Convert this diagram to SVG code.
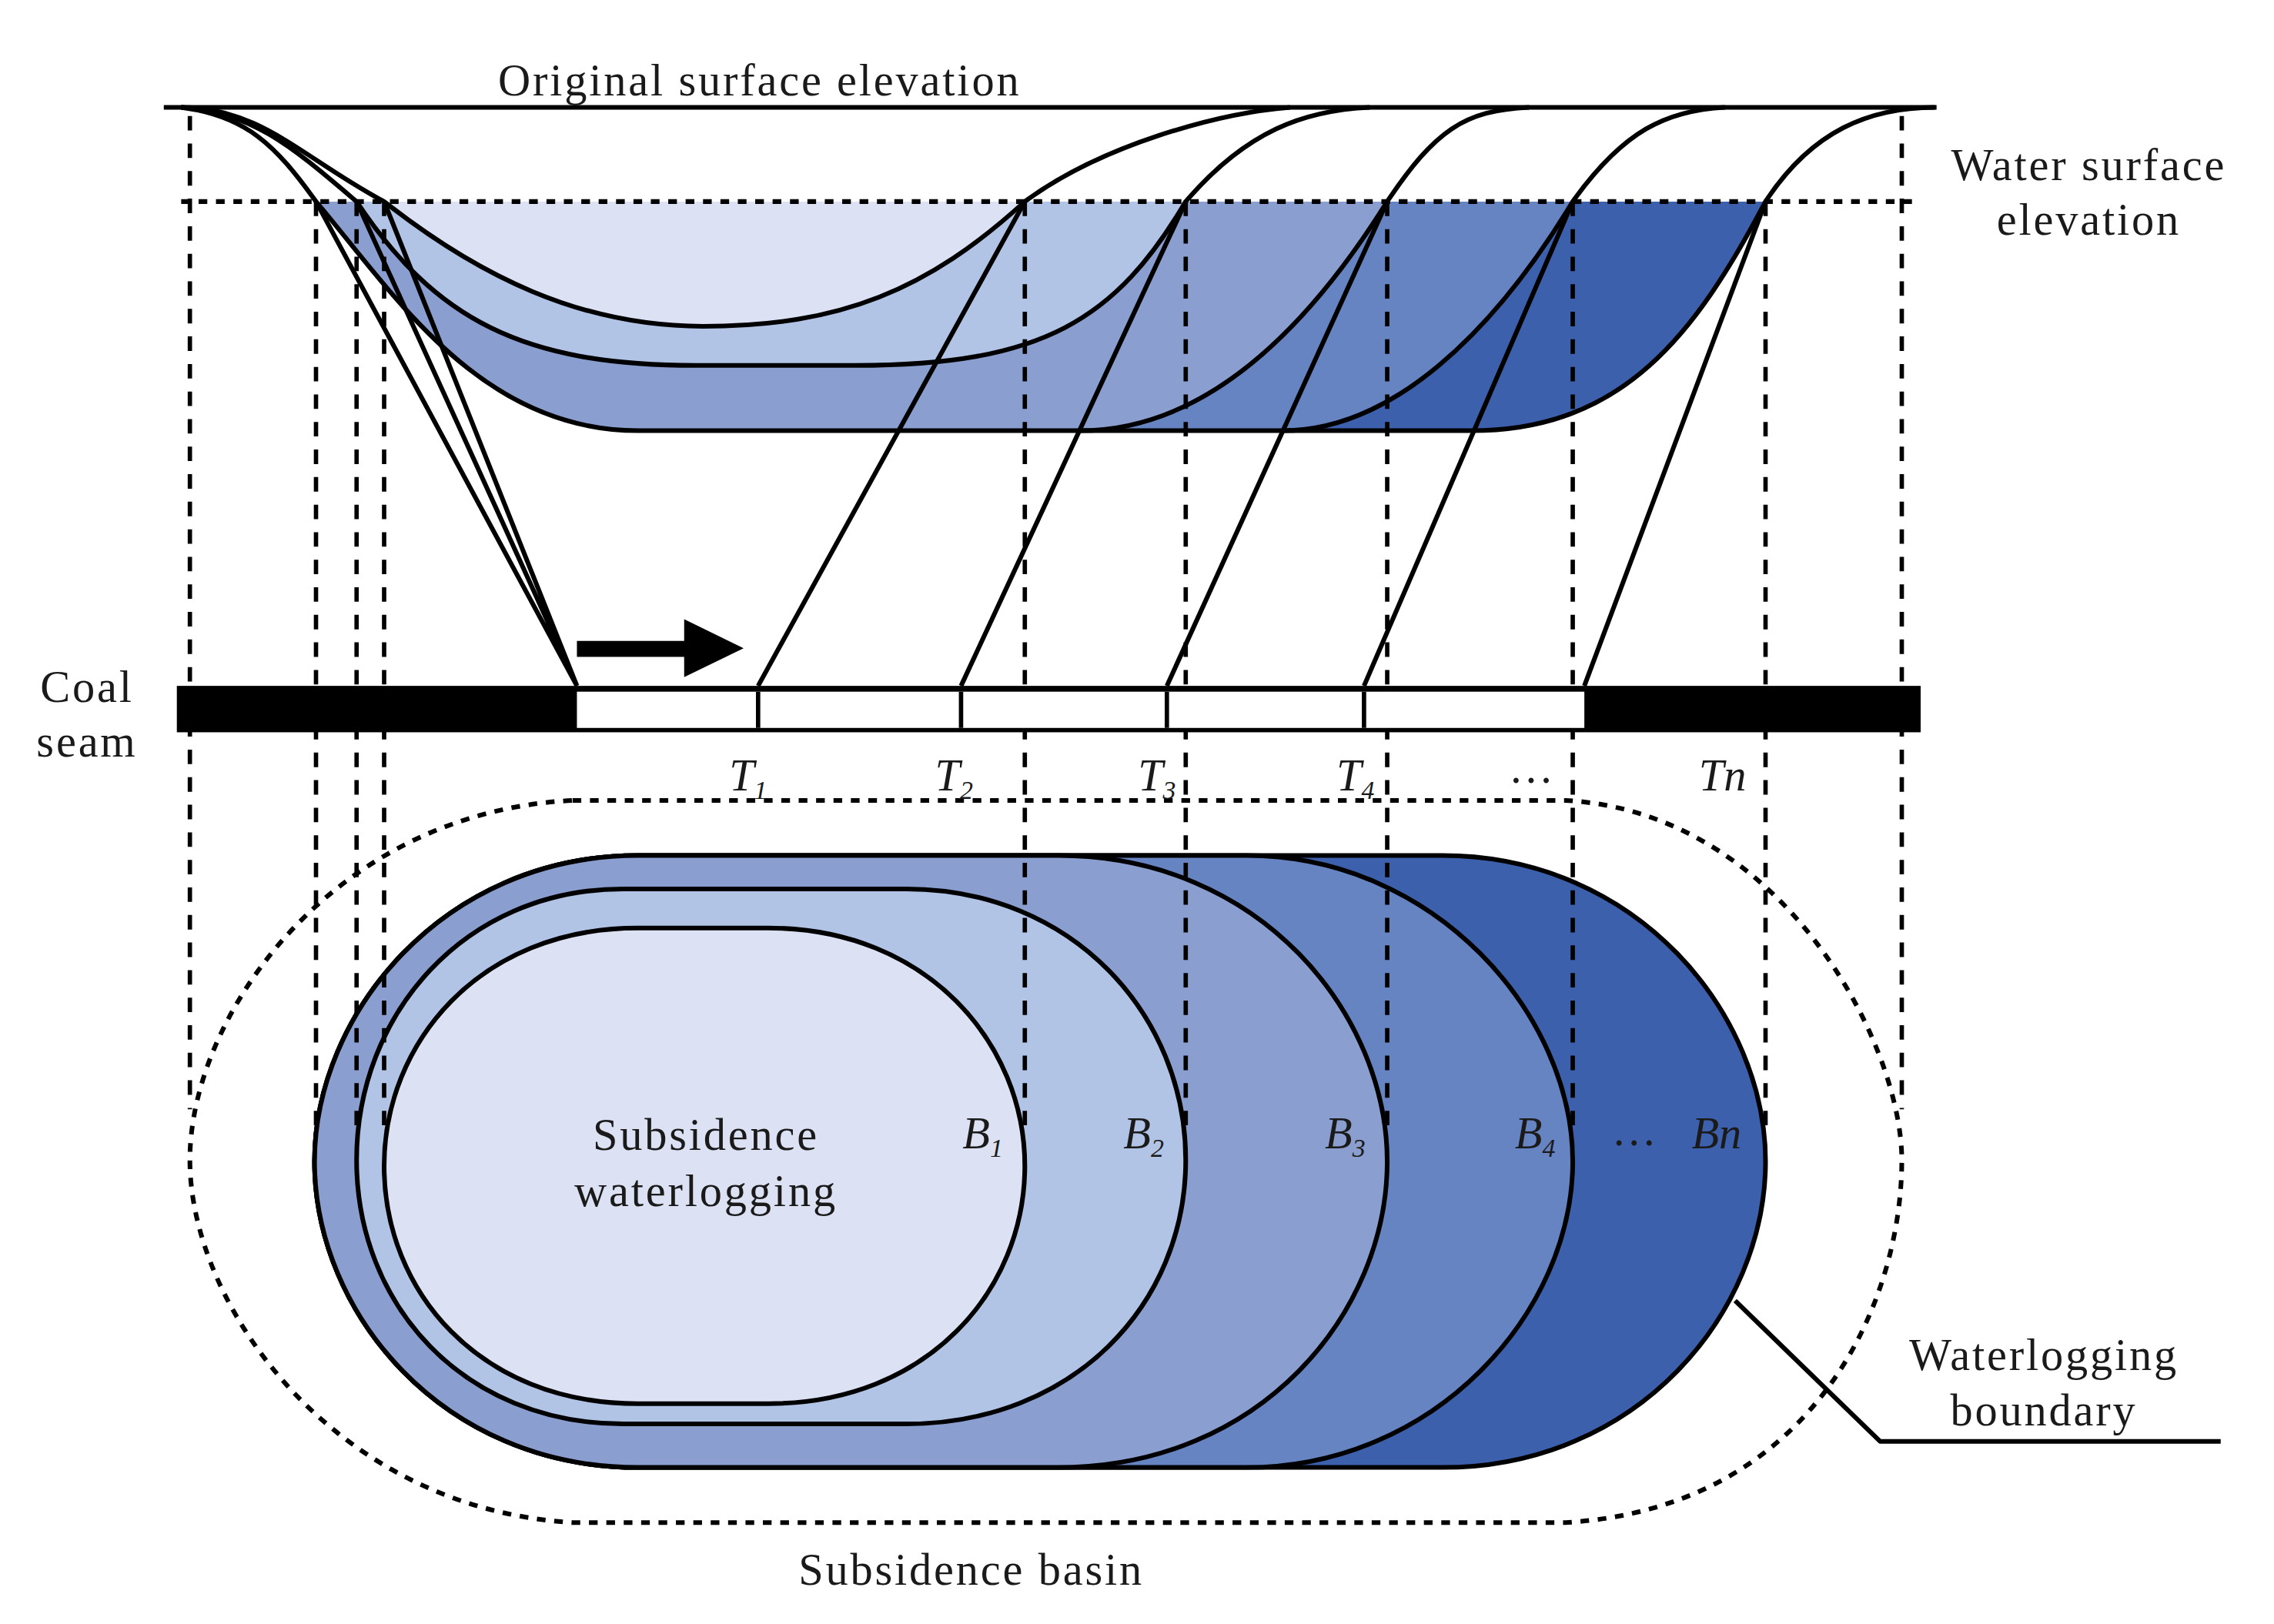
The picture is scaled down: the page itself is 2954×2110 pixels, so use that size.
<svg xmlns="http://www.w3.org/2000/svg" width="2954" height="2110" viewBox="0 0 2954 2110">
<style>
.t{font-family:"Liberation Serif","Times New Roman",serif;font-size:31px;letter-spacing:1.5px;fill:#1a1a1a}
.i{font-style:italic;letter-spacing:0}
.s{font-size:18px;font-style:italic}
.k{fill:none;stroke:#000;stroke-width:3.2;stroke-linejoin:round}
.d{fill:none;stroke:#000;stroke-width:3;stroke-dasharray:10,9}
.h{fill:none;stroke:#000;stroke-width:3.2;stroke-dasharray:6,6}
</style>
<rect width="2954" height="2110" fill="#fff"/>
<g transform="scale(1.883,1.884)">
<g id="section-fills" stroke="none">
<path d="M218,139 H1218 C1170,230 1120,297 1015,297 H440 C330,297 270,200 218,139 Z" fill="#3D60AC"/>
<path d="M218,139 H1085 C1030,230 960,297 885,297 H440 C330,297 270,200 218,139 Z" fill="#6683C2"/>
<path d="M218,139 H957 C900,230 830,297 745,297 H440 C330,297 270,200 218,139 Z" fill="#8A9ECF"/>
<path d="M246,139 H818 C770,220 720,252 590,252 H480 C360,252 300,220 246,139 Z" fill="#B1C4E6"/>
<path d="M265,139 H707 C640,200 580,225 485,225 C400,225 330,190 265,139 Z" fill="#DCE2F3"/>
</g>
<g id="plan-fills">
<path class="k" style="fill:#3D60AC" d="M440,590 H995 C1130,590 1218,700 1218,801 C1218,905 1130,1012 995,1012 H440 C305,1012 217,905 217,801 C217,700 305,590 440,590 Z"/>
<path class="k" style="fill:#6683C2" d="M440,590 H860 C990,590 1085,700 1085,801 C1085,905 990,1012 860,1012 H440 C305,1012 217,905 217,801 C217,700 305,590 440,590 Z"/>
<path class="k" style="fill:#8A9ECF" d="M440,590 H730 C870,590 957,700 957,801 C957,905 870,1012 730,1012 H440 C305,1012 217,905 217,801 C217,700 305,590 440,590 Z"/>
<path class="k" style="fill:#B1C4E6" d="M430,613 H625 C740,613 818,700 818,800 C818,900 740,982 625,982 H430 C320,982 246,900 246,800 C246,700 320,613 430,613 Z"/>
<path class="k" style="fill:#DCE2F3" d="M440,640 H530 C640,640 707,720 707,804 C707,890 640,968 530,968 H440 C330,968 265,890 265,804 C265,720 330,640 440,640 Z"/>
</g>
<g id="connectors">
<line class="h" x1="125" y1="139" x2="1320" y2="139"/>
<path class="h" d="M395,552 H1080 C1230,560 1312,720 1312,800 C1312,900 1250,1040 1080,1050 H395 C230,1040 131,900 131,800 C131,700 230,560 395,552 Z"/>
<line class="d" x1="131" y1="80" x2="131" y2="765"/>
<line class="d" x1="1312" y1="80" x2="1312" y2="765"/>
<line class="d" x1="218" y1="139" x2="218" y2="780"/>
<line class="d" x1="246" y1="139" x2="246" y2="780"/>
<line class="d" x1="265" y1="139" x2="265" y2="780"/>
<line class="d" x1="707" y1="139" x2="707" y2="780"/>
<line class="d" x1="818" y1="139" x2="818" y2="780"/>
<line class="d" x1="957" y1="139" x2="957" y2="780"/>
<line class="d" x1="1085" y1="139" x2="1085" y2="780"/>
<line class="d" x1="1218" y1="139" x2="1218" y2="780"/>
<line x1="113" y1="74" x2="1336" y2="74" stroke="#000" stroke-width="3.2"/>
<path class="k" d="M125,74 C180,74 210,110 265,139 C330,190 400,225 485,225 C580,225 640,200 707,139 C760,100 840,78 890,74"/>
<path class="k" d="M125,74 C175,78 200,100 246,139 C300,220 360,252 480,252 H590 C720,252 770,220 818,139 C860,90 900,76 945,74"/>
<path class="k" d="M125,74 C170,80 190,100 218,139 C270,200 330,297 440,297 H1015 C1120,297 1170,230 1218,139 C1250,90 1290,74 1335,74"/>
<path class="k" d="M745,297 C830,297 900,230 957,139 C990,90 1010,76 1055,74"/>
<path class="k" d="M885,297 C960,297 1030,230 1085,139 C1120,90 1150,76 1190,74"/>
<path class="k" d="M398,473 L218,139 M398,473 L246,139 M398,473 L265,139"/>
<path class="k" d="M523,473 L707,139 M663,473 L818,139 M805,473 L957,139 M941,473 L1085,139 M1093,473 L1218,139"/>
<path class="k" d="M1197,897 L1297,994 H1532"/>
</g>
<g id="coal-seam">
<rect x="122" y="473" width="1203" height="32" fill="#000"/>
<rect x="398" y="477" width="695" height="25" fill="#fff"/>
<path d="M523,477 V502 M663,477 V502 M805,477 V502 M941,477 V502" stroke="#000" stroke-width="3"/>
<rect x="398" y="442" width="78" height="11" fill="#000"/>
<path d="M472,427 L513,447 L472,467 Z" fill="#000"/>
</g>
<g id="labels">
<text class="t" x="524" y="66" text-anchor="middle">Original surface elevation</text>
<text class="t" x="1441" y="124" text-anchor="middle">Water surface</text>
<text class="t" x="1441" y="162" text-anchor="middle">elevation</text>
<text class="t" x="60" y="484" text-anchor="middle">Coal</text>
<text class="t" x="60" y="522" text-anchor="middle">seam</text>
<text class="t i" x="503" y="545">T<tspan class="s" dy="6">1</tspan></text>
<text class="t i" x="645" y="545">T<tspan class="s" dy="6">2</tspan></text>
<text class="t i" x="785" y="545">T<tspan class="s" dy="6">3</tspan></text>
<text class="t i" x="922" y="545">T<tspan class="s" dy="6">4</tspan></text>
<text class="t" x="1057" y="540" text-anchor="middle">…</text>
<text class="t i" x="1172" y="545">Tn</text>
<text class="t" x="487" y="793" text-anchor="middle">Subsidence</text>
<text class="t" x="487" y="832" text-anchor="middle">waterlogging</text>
<text class="t i" x="664" y="792">B<tspan class="s" dy="6">1</tspan></text>
<text class="t i" x="775" y="792">B<tspan class="s" dy="6">2</tspan></text>
<text class="t i" x="914" y="792">B<tspan class="s" dy="6">3</tspan></text>
<text class="t i" x="1045" y="792">B<tspan class="s" dy="6">4</tspan></text>
<text class="t" x="1128" y="790" text-anchor="middle">…</text>
<text class="t i" x="1167" y="792">Bn</text>
<text class="t" x="1410" y="945" text-anchor="middle">Waterlogging</text>
<text class="t" x="1410" y="983" text-anchor="middle">boundary</text>
<text class="t" x="670" y="1093" text-anchor="middle">Subsidence basin</text>
</g>
</g>
</svg>
